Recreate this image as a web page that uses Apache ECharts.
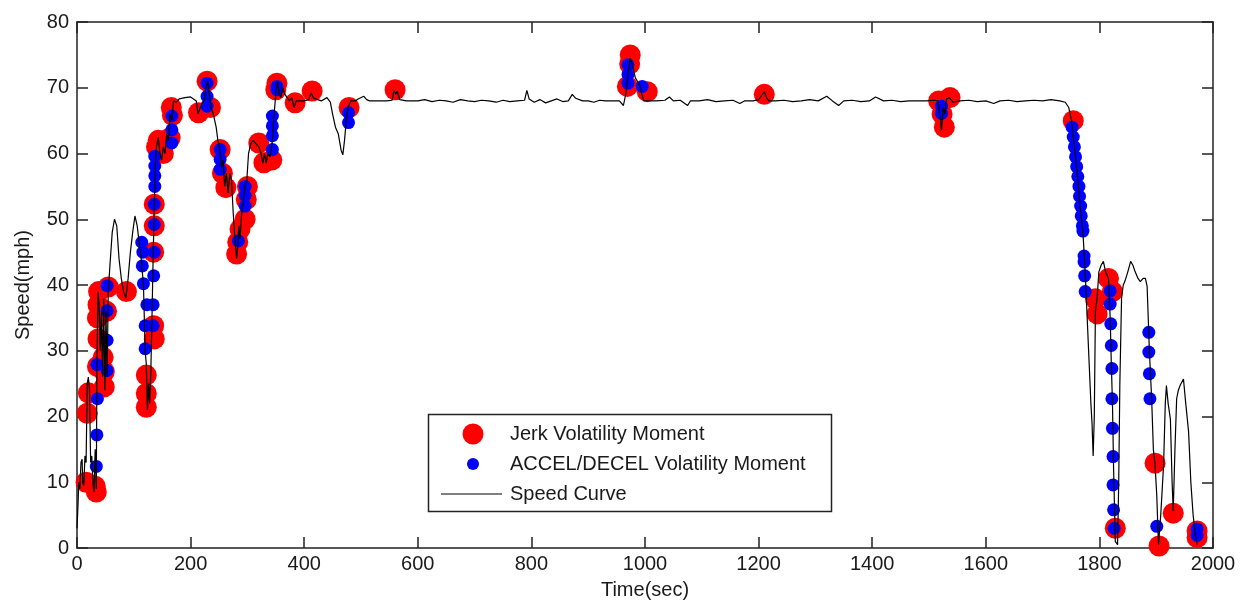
<!DOCTYPE html>
<html>
<head>
<meta charset="utf-8">
<script src="https://cdn.jsdelivr.net/npm/echarts@6/dist/echarts.min.js"></script>
<style>html,body{margin:0;padding:0;background:#fff}#c{width:1244px;height:605px}</style>
</head>
<body>
<div id="c"></div>
<script>
// ---- data (time in sec, speed in mph) ----
const xTicks = [0, 2000, 200];
const yTicks = [0, 80, 10];
const legendLabels = ['Jerk Volatility Moment', 'ACCEL/DECEL Volatility Moment', 'Speed Curve'];

const speedCurve = [
[0,3],[2,7],[3,10],[5,9],[7,13],[9,13.5],[10,10],[12,9.5],[14,14],[16,13],[18,25],[20,26],[22,24],[24,13],[26,14],[28,10],[30,8.5],[32,15],[34,9],[35,27],[37,39],[39,37],[41,30],[43,36],[45,26],[47,38],[49,24],[51,36],[53,26],[55,39],[58,43],[62,48],[66,50],[70,49],[74,44],[78,41],[82,39],[86,38],[90,41],[94,45],[98,48],[102,50.5],[106,49],[110,46],[113,44],[117,40],[120,30],[122,28],[124,21],[126,25],[128,22],[130,27],[132,35],[134,44],[136,52],[138,58],[140,61],[143,62.5],[146,60],[149,59],[152,61],[155,60],[158,63],[161,62],[164,66],[167,65],[170,68],[175,67.8],[180,68.3],[190,68.5],[200,68.6],[205,68.3],[210,68],[213,66],[217,67],[220,67.5],[224,68],[227,70],[230,71],[233,69],[236,67],[240,66],[245,64],[248,62],[251,61],[254,58],[257,59],[260,55],[263,57],[266,54],[269,57],[272,56],[275,51],[278,47],[281,44],[283,46],[285,49],[287,47],[290,51],[293,53],[296,55],[299,56],[302,60],[306,61.5],[310,62],[315,61.5],[320,61],[324,60],[327,58.5],[330,60],[333,58.5],[336,60],[340,59.5],[344,62],[347,66],[350,69],[353,71],[356,69],[359,68.5],[362,70],[366,69],[370,68.5],[374,68],[378,68.5],[382,67],[386,68],[390,68],[400,68],[408,68.2],[412,69.2],[416,68.5],[420,68.3],[430,68],[440,68.5],[446,67.8],[450,66],[455,64],[460,63],[465,60.5],[468,59.8],[471,62],[474,65],[477,67],[482,68],[490,68],[495,68.3],[505,68.7],[510,68.2],[515,68],[530,68],[545,68],[555,68.1],[558,69.6],[561,69],[564,69.5],[568,68.2],[580,68],[590,68],[600,68],
[612,68.2],[625,67.9],[638,68.1],[650,68],[662,67.8],[675,68.2],[688,68],[700,67.9],[712,68.1],[725,68],[738,67.8],[750,68.1],[762,67.9],[775,68],[788,68.1],[792,69.6],[796,68.3],[805,67.8],[815,68.2],[825,67.7],[835,68],[845,68.3],[855,67.9],[865,68],[872,69],[878,68.4],[890,68],[900,68],[910,67.8],[920,68.1],[930,68],[945,68],[955,68],[962,67.3],[966,69],[970,72],[974,74.5],[978,73.5],[983,71.5],[990,70.5],[996,68.5],[998,68],[1008,68],
[1020,68],[1035,68.1],[1043,68.6],[1050,68],[1062,68.1],[1075,67.3],[1080,68],[1095,68],[1110,68.2],[1125,67.9],[1140,68],[1155,68.1],[1167,67.6],[1175,68],[1190,68],[1200,68.2],[1206,68.9],[1210,69.4],[1214,68.5],[1218,68],[1230,68],[1245,68.1],[1260,67.9],[1275,68],[1290,68.2],[1305,68],[1320,68.7],[1330,68],[1341,67.3],[1350,68],[1365,68.1],[1380,67.9],[1395,68],[1406,68.6],[1420,68],[1435,68.1],[1450,67.9],[1465,68],[1480,68],[1495,68],[1510,68.1],[1516,68],[1519,66],[1522,63.5],[1525,67],[1528,66],[1531,68.3],[1536,68.5],[1542,67.8],[1555,68],[1570,68.1],[1585,67.9],[1600,68],[1614,67.6],[1625,68],[1640,68.1],[1655,67.9],[1670,68],[1685,68.1],[1700,68],[1715,68.2],[1730,68],[1740,67.8],[1746,67],[1751,65],[1756,61],[1761,57],[1766,52],[1771,48],[1775,42],[1778,36],[1782,28],[1785,22],[1787,19],[1789,14],[1791,20],[1793,36],[1796,38],[1799,42],[1803,43],[1807,43.6],[1811,42],[1816,41],[1819,35],[1821,28],[1823,22],[1825,12],[1828,1],[1832,0.5],[1834,10],[1836,25],[1839,38],[1842,40],[1845,40.6],[1850,42],[1855,43.6],[1859,43],[1863,42],[1868,41],[1872,40.5],[1877,41],[1881,41],[1884,39.8],[1888,30],[1892,22.7],[1895,15],[1898,12.6],[1901,8],[1904,0.5],[1908,5],[1913,12.6],[1916,22],[1918,24.7],[1921,22],[1925,19.6],[1928,10],[1930,5.6],[1933,15],[1936,22.7],[1939,24],[1942,24.7],[1945,25],[1948,25.7],[1952,22],[1957,17.7],[1961,10],[1965,5],[1969,2],[1972,0.5]
];

const jerkPoints = [
[16,10],[18,20.5],[20,23.6],[32,9.4],[34,8.5],[36,27.6],[37,31.8],[36,35],[37,37],[38,39],[46,29],[48,26.8],[48,24.5],[52,36],[55,39.7],[87,39],[122,21.4],[122,23.5],[122,26.3],[136,31.8],[135,33.8],[135,45],[136,49],[136,52.3],[140,61],[143,62],[152,60],[164,62.4],[166,67],[168,65.8],[214,66.2],[229,71],[235,67],[252,60.6],[256,57],[262,54.8],[281,44.7],[283,46.5],[287,48.5],[296,50],[300,55],[298,53],[320,61.6],[329,58.6],[343,59],[352,70.7],[350,69.7],[384,67.7],[414,69.5],[479,67],[560,69.7],[974,75],[973,73.6],[969,70.2],[1004,69.4],[1210,69],[1517,68],[1523,66],[1527,64],[1537,68.5],[1754,65],[1793,37.9],[1796,35.6],[1816,41],[1823,39],[1828,3],[1898,12.9],[1905,0.3],[1930,5.3],[1972,2.6],[1972,1.6]
];

const accelPoints = [
[34,12.4],[35,17.2],[36,22.7],[35,27.9],[53,39.9],[53,36.1],[53,31.6],[53,27],[117,40.2],[123,37],[134,37],[120,33.8],[134,33.8],[120,30.3],[114,46.5],[116,45],[115,42.9],[135,41.4],[137,59.6],[137,58.1],[137,56.6],[137,55],[136,52.3],[136,49.2],[136,45],[167,65.7],[167,63.6],[167,61.6],[229,70.7],[229,68.7],[229,67.2],[252,60.6],[252,59.1],[252,57.6],[296,55],[296,53.6],[296,52],[284,46.7],[344,65.7],[344,64.2],[344,62.7],[344,60.6],[352,70.2],[352,69.7],[478,66.2],[478,64.7],[970,73.5],[970,72],[970,70.7],[995,70.2],[1522,67.2],[1522,66.1],
[1752,64],[1754,62.5],[1756,61],[1758,59.5],[1760,58],[1762,56.5],[1764,55],[1765,53.5],[1767,52],[1768,50.5],[1770,49],[1771,48.2],[1773,44.4],[1773,43.5],[1774,41.4],[1775,39],
[1819,39.1],[1819,37.1],[1820,34.1],[1821,30.8],[1822,27.3],[1822,22.7],[1823,18.2],[1824,13.9],[1824,9.6],[1825,5.8],[1826,3],
[1887,32.8],[1887,29.8],[1888,26.5],[1889,22.7],[1901,3.3],[1972,2.9],[1972,1.9]
];

// ---- chart ----
const FONT = '"Liberation Sans", Arial, sans-serif';
const TXT = '#1a1a1a';
function axisBase() {
  return {
    type: 'value',
    axisLine: { show: true, onZero: false, lineStyle: { color: '#222', width: 1.5 } },
    axisTick: { show: true, inside: true, length: 11, lineStyle: { color: '#222', width: 1.5 } },
    splitLine: { show: false },
  };
}
const plain = v => String(v);
const chart = echarts.init(document.getElementById('c'), null, { renderer: 'canvas' });
chart.setOption({
  animation: false,
  backgroundColor: '#fff',
  grid: { left: 77, right: 31, top: 22, bottom: 55, show: false },
  xAxis: [
    Object.assign(axisBase(), {
      min: xTicks[0], max: xTicks[1], interval: xTicks[2], position: 'bottom',
      axisLabel: { fontSize: 20, fontFamily: FONT, color: TXT, margin: 6, formatter: plain },
      name: 'Time(sec)', nameLocation: 'middle', nameGap: 32,
      nameTextStyle: { fontSize: 20, fontFamily: FONT, color: TXT }
    }),
    Object.assign(axisBase(), {
      min: xTicks[0], max: xTicks[1], interval: xTicks[2], position: 'top',
      axisLabel: { show: false }
    })
  ],
  yAxis: [
    Object.assign(axisBase(), {
      min: yTicks[0], max: yTicks[1], interval: yTicks[2], position: 'left',
      axisLabel: { fontSize: 20, fontFamily: FONT, color: TXT, margin: 8, formatter: plain },
      name: 'Speed(mph)', nameLocation: 'middle', nameGap: 44,
      nameTextStyle: { fontSize: 20, fontFamily: FONT, color: TXT }
    }),
    Object.assign(axisBase(), {
      min: yTicks[0], max: yTicks[1], interval: yTicks[2], position: 'right',
      axisLabel: { show: false }
    })
  ],
  series: [
    { name: legendLabels[0], type: 'scatter', data: jerkPoints, symbol: 'circle', symbolSize: 21,
      itemStyle: { color: '#ff0000', opacity: 1 }, z: 1, silent: true },
    { name: legendLabels[1], type: 'scatter', data: accelPoints, symbol: 'circle', symbolSize: 13,
      itemStyle: { color: '#0000ff', opacity: 1 }, z: 2, silent: true },
    { name: legendLabels[2], type: 'line', data: speedCurve, showSymbol: false, symbol: 'none',
      lineStyle: { color: '#000', width: 1.2 }, z: 3, silent: true }
  ],
  graphic: [
    { type: 'rect', shape: { x: 428.5, y: 414.5, width: 403, height: 97 },
      style: { fill: '#fff', stroke: '#222', lineWidth: 1.5 }, z: 100 },
    { type: 'circle', shape: { cx: 473, cy: 434, r: 10.5 }, style: { fill: '#ff0000' }, z: 101 },
    { type: 'circle', shape: { cx: 473, cy: 464, r: 6 }, style: { fill: '#0000ff' }, z: 101 },
    { type: 'line', shape: { x1: 441, y1: 494, x2: 502, y2: 494 }, style: { stroke: '#000', lineWidth: 1.2 }, z: 101 },
    { type: 'text', x: 510, y: 434, z: 101, style: { text: legendLabels[0], fontSize: 20, fontFamily: FONT, fill: TXT, verticalAlign: 'middle' } },
    { type: 'text', x: 510, y: 464, z: 101, style: { text: legendLabels[1], fontSize: 20, fontFamily: FONT, fill: TXT, verticalAlign: 'middle' } },
    { type: 'text', x: 510, y: 494, z: 101, style: { text: legendLabels[2], fontSize: 20, fontFamily: FONT, fill: TXT, verticalAlign: 'middle' } }
  ]
});
</script>
</body>
</html>
